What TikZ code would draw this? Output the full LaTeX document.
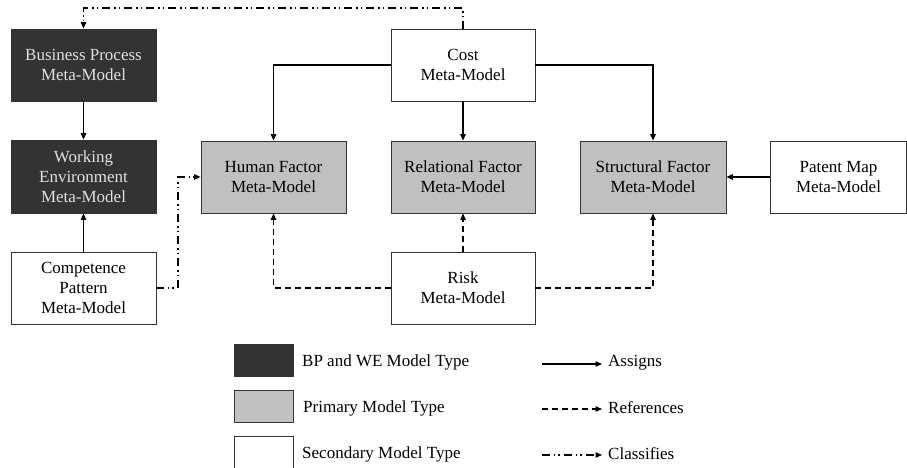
\documentclass[tikz,border=0pt]{standalone}
\usepackage{fontspec}
\setmainfont{Liberation Serif}
\usetikzlibrary{arrows.meta}
\definecolor{bpdark}{HTML}{333333}
\definecolor{primgray}{HTML}{C0C0C0}
\tikzset{
  mbox/.style={draw=black!80, line width=0.8pt, minimum height=72pt, align=center,
    inner sep=2pt, font=\fontsize{17}{20}\selectfont},
  darkbox/.style={mbox, fill=bpdark, text=white!88!black},
  graybox/.style={mbox, fill=primgray},
  whitebox/.style={mbox, fill=white},
  legbox/.style={draw=black!80, line width=0.8pt, minimum width=59pt, minimum height=32pt, inner sep=0pt},
  legtext/.style={anchor=west, inner sep=0pt, font=\fontsize{17}{20}\selectfont},
  conn/.style={line width=1.2pt, -{Triangle[length=6.5pt,width=5.5pt]}},
  assign/.style={conn},
  refline/.style={conn, dash pattern=on 6pt off 4pt},
  clsline/.style={conn, dash pattern=on 8pt off 3.5pt on 1.5pt off 3pt on 1.5pt off 4.5pt},
}
\begin{document}
\begin{tikzpicture}[x=1pt, y=-1pt]
\useasboundingbox (0,0) rectangle (907,468);

% model boxes
\node[darkbox, minimum width=145pt] (bp) at (83.5,65) {Business Process\\Meta-Model};
\node[darkbox, minimum width=145pt, minimum height=73pt] (we) at (83.5,176.5) {Working\\Environment\\Meta-Model};
\node[whitebox, minimum width=145pt] (comp) at (83.5,288) {Competence\\Pattern\\Meta-Model};
\node[graybox, minimum width=145pt] (human) at (273.5,177) {Human Factor\\Meta-Model};
\node[graybox, minimum width=144pt] (rel) at (463,177) {Relational Factor\\Meta-Model};
\node[graybox, minimum width=146pt] (struct) at (653,177) {Structural Factor\\Meta-Model};
\node[whitebox, minimum width=136pt] (patent) at (838.5,177) {Patent Map\\Meta-Model};
\node[whitebox, minimum width=144pt] (cost) at (463,65) {Cost\\Meta-Model};
\node[whitebox, minimum width=144pt] (risk) at (463,288) {Risk\\Meta-Model};

% assigns
\draw[assign] (cost.west) -| (human.north);
\draw[assign] (cost) -- (rel);
\draw[assign] (cost.east) -| (struct.north);
\draw[assign] (bp) -- (we);
\draw[assign] (comp) -- (we);
\draw[assign] (patent) -- (struct);

% references
\draw[refline] (risk) -- (rel);
\draw[refline] (risk.west) -| (human.south);
\draw[refline] (risk.east) -| (struct.south);

% classifies
\coordinate (topline) at (0,8);
\coordinate (cpbend) at (178,288);
\draw[clsline] (comp.east) -- (cpbend) |- (human.west);
\draw[clsline] (cost.north) -- (cost.north |- topline) -| (bp.north);

% legend: model types
\node[legbox, fill=bpdark] (lgdark) at (263.5,360) {};
\node[legbox, fill=primgray] (lggray) at (263.5,406) {};
\node[legbox, fill=white] (lgwhite) at (263.5,452) {};
\node[legtext] (tdark) at (302,362) {BP and WE Model Type};
\node[legtext] (tgray) at (303,408) {Primary Model Type};
\node[legtext] (twhite) at (302,454) {Secondary Model Type};

% legend: connector types
\coordinate (la1) at (542,364); \coordinate (lb1) at (602,364);
\coordinate (la2) at (542,409); \coordinate (lb2) at (602,409);
\coordinate (la3) at (542,455); \coordinate (lb3) at (602,455);
\draw[assign] (la1) -- (lb1);
\draw[refline] (la2) -- (lb2);
\draw[clsline] (la3) -- (lb3);
\node[legtext] (tassign) at (608,363) {Assigns};
\node[legtext] (tref) at (608,408) {References};
\node[legtext] (tcls) at (608,454) {Classifies};
\end{tikzpicture}
\end{document}
